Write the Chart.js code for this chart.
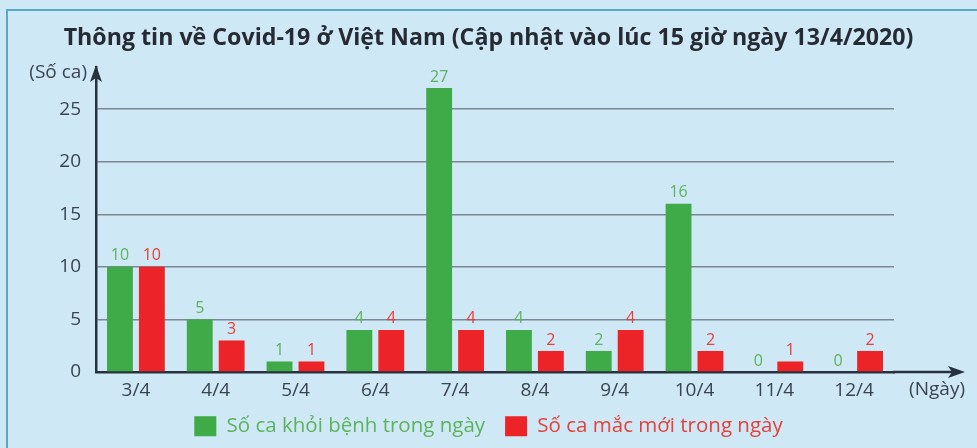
<!DOCTYPE html>
<html>
<head>
<meta charset="utf-8">
<script src="https://cdn.jsdelivr.net/npm/chart.js@4.4.0/dist/chart.umd.min.js"></script>
<style>
  html, body { margin: 0; padding: 0; background: #cfe8f6; }
  .frame {
    position: relative;
    width: 977px;
    height: 448px;
    background: #cfe8f6;
  }
  .frame::before {
    content: "";
    position: absolute;
    left: 6px;
    top: 9px;
    right: 0;
    bottom: 0;
    border-left: 2px solid #5aa9c2;
    border-top: 2px solid #5aa9c2;
    pointer-events: none;
  }
  canvas { position: absolute; left: 0; top: 0; }
</style>
</head>
<body>
<div class="frame">
  <canvas id="covidChart" width="977" height="448"></canvas>
</div>
<script>
const days = ["3/4", "4/4", "5/4", "6/4", "7/4", "8/4", "9/4", "10/4", "11/4", "12/4"];
const recovered = [10, 5, 1, 4, 27, 4, 2, 16, 0, 0];
const newCases = [10, 3, 1, 4, 4, 2, 4, 2, 1, 2];
const yTicks = [0, 5, 10, 15, 20, 25];

const GREEN = "#3eaa48";
const RED = "#ec2327";
const GREEN_TEXT = "#5cb35e";
const RED_TEXT = "#e5403a";
const AXIS = "#28323f";
const TEXT = "#3a4450";
const FONT = "'Open Sans', sans-serif";

// value printed above every bar, in the colour of its series
const valueLabels = {
    id: "valueLabels",
    afterDatasetsDraw(chart) {
        const ctx = chart.ctx;
        ctx.save();
        ctx.font = "16px " + FONT;
        ctx.textAlign = "center";
        ctx.textBaseline = "bottom";
        chart.data.datasets.forEach((ds, i) => {
            const meta = chart.getDatasetMeta(i);
            ctx.fillStyle = ds.labelColor;
            meta.data.forEach((bar, j) => {
                ctx.fillText(String(ds.data[j]), bar.x, bar.y - 3);
            });
        });
        ctx.restore();
    }
};

// arrow heads on both axes plus the axis captions
const axisArrows = {
    id: "axisArrows",
    afterDraw(chart) {
        const ctx = chart.ctx;
        const area = chart.chartArea;
        const x0 = area.left;
        const y0 = chart.scales.y.getPixelForValue(0);
        const tipX = chart.width - 12;
        ctx.save();
        ctx.strokeStyle = AXIS;
        ctx.fillStyle = AXIS;
        ctx.lineWidth = 2.5;

        // x axis runs on past the last category
        ctx.beginPath();
        ctx.moveTo(area.right - 1, y0);
        ctx.lineTo(tipX - 10, y0);
        ctx.stroke();
        ctx.beginPath();
        ctx.moveTo(tipX, y0);
        ctx.lineTo(tipX - 17, y0 - 6);
        ctx.lineTo(tipX - 13, y0);
        ctx.lineTo(tipX - 17, y0 + 6);
        ctx.closePath();
        ctx.fill();

        // y axis head
        const tipY = area.top - 2;
        ctx.beginPath();
        ctx.moveTo(x0, tipY);
        ctx.lineTo(x0 - 6, tipY + 17);
        ctx.lineTo(x0, tipY + 13);
        ctx.lineTo(x0 + 6, tipY + 17);
        ctx.closePath();
        ctx.fill();

        ctx.fillStyle = TEXT;
        ctx.font = "19px " + FONT;
        ctx.textBaseline = "middle";
        ctx.textAlign = "right";
        ctx.fillText("(Số ca)", x0 - 9, tipY + 8);
        ctx.fillText("(Ngày)", tipX, y0 + 18);
        ctx.restore();
    }
};

new Chart(document.getElementById("covidChart"), {
    type: "bar",
    data: {
        labels: days,
        datasets: [{
            label: "Số ca khỏi bệnh trong ngày",
            data: recovered,
            backgroundColor: GREEN,
            labelColor: GREEN_TEXT,
            categoryPercentage: 0.8,
            barPercentage: 0.81
        }, {
            label: "Số ca mắc mới trong ngày",
            data: newCases,
            backgroundColor: RED,
            labelColor: RED_TEXT,
            categoryPercentage: 0.8,
            barPercentage: 0.81
        }]
    },
    options: {
        responsive: false,
        animation: false,
        layout: { padding: { top: 0, left: 0, right: 0, bottom: 1.5 } },
        plugins: {
            title: {
                display: true,
                text: "Thông tin về Covid-19 ở Việt Nam (Cập nhật vào lúc 15 giờ ngày 13/4/2020)",
                color: "#262b33",
                font: { family: FONT, size: 23.2, weight: "bold" },
                padding: { top: 24, bottom: 15.2 }
            },
            legend: {
                position: "bottom",
                labels: {
                    boxWidth: 22,
                    boxHeight: 20,
                    padding: 20,
                    font: { family: FONT, size: 20.5 },
                    generateLabels(chart) {
                        const items = Chart.defaults.plugins.legend.labels.generateLabels(chart);
                        items.forEach(item => {
                            item.fontColor = chart.data.datasets[item.datasetIndex].labelColor;
                            item.lineWidth = 0;
                        });
                        return items;
                    }
                }
            },
            tooltip: { enabled: false }
        },
        scales: {
            x: {
                grid: { display: false, drawTicks: false },
                border: { color: AXIS, width: 2.5 },
                ticks: {
                    color: TEXT,
                    padding: 7,
                    font: { family: FONT, size: 19 }
                },
                afterFit(scale) { scale.height = 24; }
            },
            y: {
                min: 0,
                max: 29,
                afterBuildTicks(scale) {
                    scale.ticks = yTicks.map(v => ({ value: v }));
                },
                grid: {
                    color: "#7b8894",
                    lineWidth: 1.5,
                    drawTicks: false
                },
                border: { color: AXIS, width: 2.5 },
                ticks: {
                    color: TEXT,
                    padding: 15,
                    font: { family: FONT, size: 19 }
                },
                afterFit(scale) { scale.width = 96; }
            },
            side: {
                position: "right",
                display: true,
                grid: { display: false },
                border: { display: false },
                ticks: { display: false },
                afterFit(scale) { scale.width = 83; }
            }
        }
    },
    plugins: [valueLabels, axisArrows]
});
</script>
</body>
</html>
